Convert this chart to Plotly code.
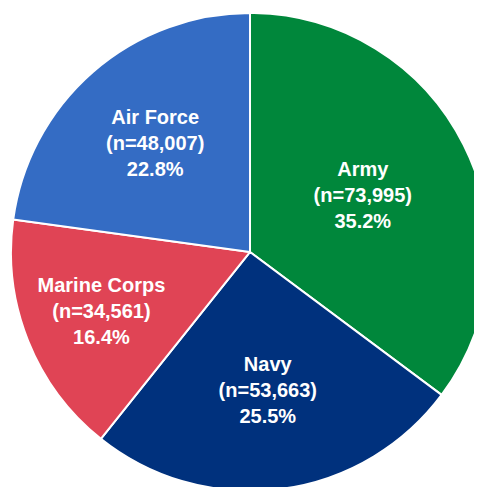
import plotly.graph_objects as go

branches = ["Army", "Navy", "Marine Corps", "Air Force"]
counts = [73995, 53663, 34561, 48007]
colors = ["#00873B", "#00317D", "#E04455", "#346CC4"]

labels_text = [f"{b}<br>(n={c:,})<br>%{{percent:.1%}}" for b, c in zip(branches, counts)]

fig = go.Figure(go.Pie(
    labels=branches,
    values=counts,
    sort=False,
    direction="clockwise",
    rotation=0,
    marker=dict(colors=colors, line=dict(color="white", width=2)),
    texttemplate=labels_text,
    textposition="inside",
    insidetextorientation="horizontal",
    textfont=dict(family="Liberation Sans", size=20, color="white", weight="bold"),
    hoverinfo="label+value+percent",
    showlegend=False,
))

fig.update_layout(
    width=500,
    height=505,
    margin=dict(l=3, r=19, t=5, b=22),
    paper_bgcolor="white",
)

fig.write_html("out.html", post_script="document.body.style.overflow='hidden';")
